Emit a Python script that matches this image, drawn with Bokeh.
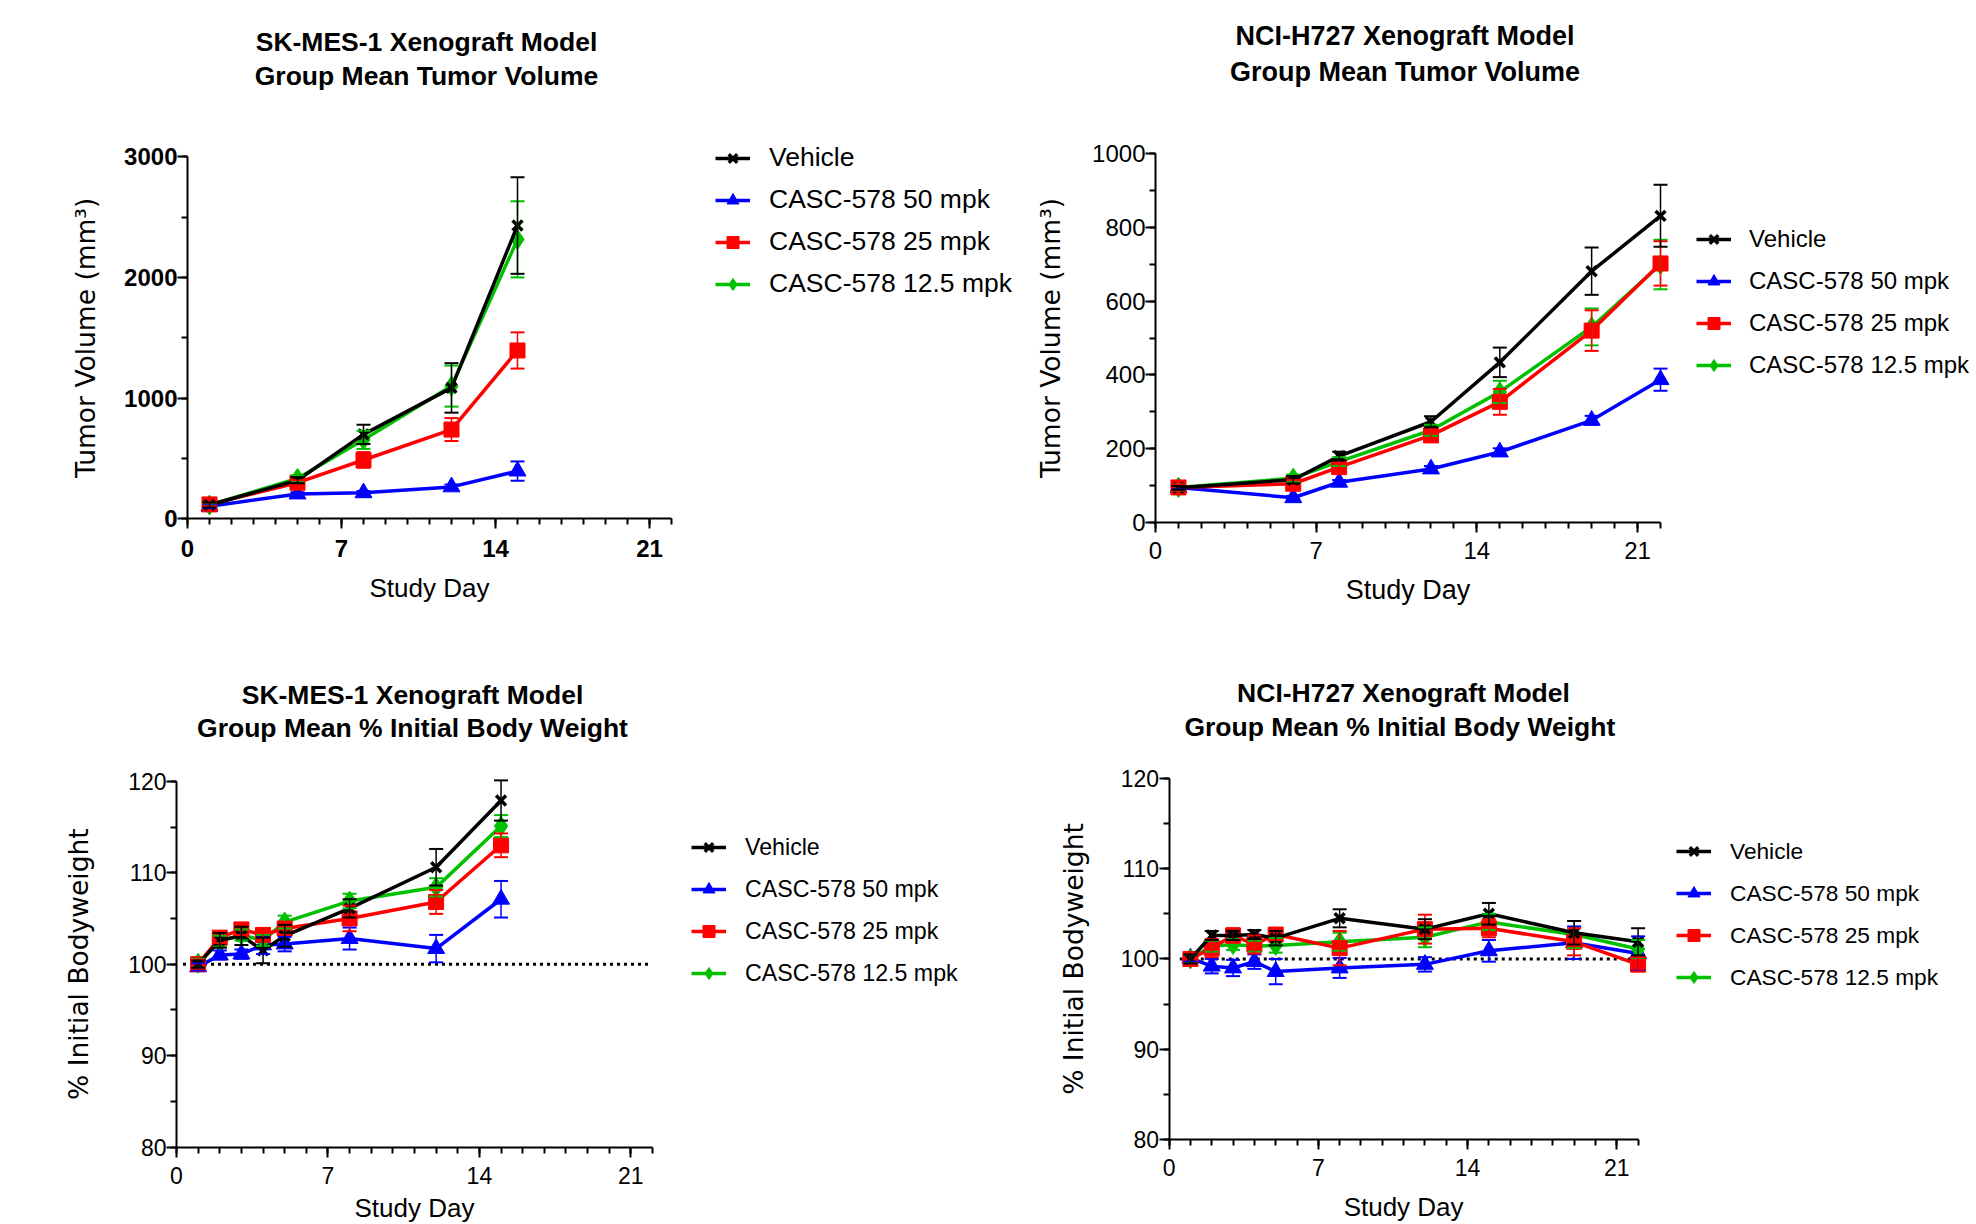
import math
from bokeh.plotting import figure
from bokeh.models import (Range1d, FixedTicker, Whisker, TeeHead, ColumnDataSource,
                          Legend, LegendItem, Label, LinearAxis)
from bokeh.layouts import column, row
from bokeh.embed import file_html
from bokeh.resources import INLINE

# ---------------- data ----------------
group_labels = ["Vehicle", "CASC-578 50 mpk", "CASC-578 25 mpk", "CASC-578 12.5 mpk"]
x_ticks = [0, 7, 14, 21]
x_max_day = 22

# SK-MES-1 tumor volume
sk_tv_days = [1, 5, 8, 12, 15]
sk_tv_vehicle = [115, 320, 700, 1085, 2430]
sk_tv_vehicle_err = [20, 25, 80, 205, 400]
sk_tv_50 = [105, 206, 216, 265, 396]
sk_tv_50_err = [15, 15, 15, 20, 80]
sk_tv_25 = [120, 300, 488, 740, 1395]
sk_tv_25_err = [15, 20, 65, 95, 150]
sk_tv_125 = [115, 335, 655, 1100, 2315]
sk_tv_125_err = [15, 25, 75, 170, 315]

# NCI-H727 tumor volume
nci_tv_days = [1, 6, 8, 12, 15, 19, 22]
nci_tv_vehicle = [94, 116, 180, 273, 434, 681, 831]
nci_tv_vehicle_err = [5, 10, 12, 15, 40, 64, 84]
nci_tv_50 = [95, 67, 109, 145, 191, 277, 387]
nci_tv_50_err = [5, 5, 6, 8, 10, 12, 30]
nci_tv_25 = [95, 105, 150, 236, 327, 520, 702]
nci_tv_25_err = [8, 10, 12, 15, 35, 55, 60]
nci_tv_125 = [95, 120, 165, 250, 354, 530, 699]
nci_tv_125_err = [8, 10, 12, 15, 30, 50, 67]

# SK-MES-1 body weight
sk_bw_days = [1, 2, 3, 4, 5, 8, 12, 15]
sk_bw_vehicle = [100, 102.6, 103.1, 101.5, 103.1, 106.1, 110.6, 117.9]
sk_bw_vehicle_err = [0.4, 0.8, 1.0, 1.4, 1.2, 1.0, 2.0, 2.2]
sk_bw_50 = [99.7, 101.0, 101.1, 102.1, 102.2, 102.8, 101.7, 107.1]
sk_bw_50_err = [0.4, 0.5, 0.5, 1.0, 0.8, 1.2, 1.5, 2.0]
sk_bw_25 = [100.0, 102.9, 103.8, 103.2, 103.9, 105.0, 106.8, 113.0]
sk_bw_25_err = [0.5, 0.6, 0.6, 0.5, 0.7, 1.4, 1.3, 1.3]
sk_bw_125 = [100.1, 102.5, 103.2, 102.6, 104.6, 106.9, 108.4, 115.1]
sk_bw_125_err = [0.5, 0.6, 0.6, 0.6, 0.7, 0.8, 1.0, 1.2]

# NCI-H727 body weight
nci_bw_days = [1, 2, 3, 4, 5, 8, 12, 15, 19, 22]
nci_bw_vehicle = [100, 102.6, 102.6, 102.7, 102.3, 104.5, 103.3, 105.0, 102.9, 101.9]
nci_bw_vehicle_err = [0.5, 0.5, 0.5, 0.5, 0.8, 1.0, 1.1, 1.2, 1.3, 1.5]
nci_bw_50 = [100.1, 99.2, 99.0, 99.7, 98.6, 99.0, 99.4, 100.9, 101.8, 100.6]
nci_bw_50_err = [0.4, 0.8, 0.9, 0.8, 1.4, 1.1, 0.8, 1.2, 1.8, 1.9]
nci_bw_25 = [100.0, 101.2, 102.6, 101.6, 102.7, 101.2, 103.3, 103.4, 101.9, 99.4]
nci_bw_25_err = [0.6, 1.0, 0.8, 1.0, 0.6, 1.9, 1.6, 1.0, 1.5, 0.8]
nci_bw_125 = [100.0, 101.4, 101.6, 101.4, 101.5, 101.9, 102.4, 104.1, 102.7, 101.1]
nci_bw_125_err = [0.5, 0.6, 0.6, 0.6, 0.8, 1.0, 1.1, 0.9, 1.5, 1.0]

baseline_pct = 100
sk_baseline_days = [0.3, 21.8]
nci_baseline_days = [0.5, 22.0]

# ---------------- styling ----------------
COLORS = ["#000000", "#0000FF", "#FF0000", "#00C000"]
MARKERS = ["x", "triangle", "square", "diamond"]
MSIZE = [14, 17, 15, 20]
DRAW_ORDER = [1, 3, 2, 0]
FONT = "Liberation Sans"


def make_panel(title_lines, ylabel, days, series, errs, y_lim, y_ticks, y_minor,
               W, H, ax_x, ax_y, xppu, yppu, title_x, title_ys, leg_xy,
               ylabel_x, xlabel_y,
               bold_ticks=False, baseline=None, tick_fs="24px",
               title_fs="26.5px", legend_fs="26px", label_fs="26px",
               xtick_standoff=11, legend_spacing=12, legend_standoff=19):
    # The frame covers the whole canvas; axes are pinned inside it with
    # fixed_location so titles, axis labels and legend are all free to place.
    y0 = y_lim[0]
    p = figure(width=W, height=H, title=None,
               min_border_left=0, min_border_right=0,
               min_border_top=0, min_border_bottom=0,
               x_axis_location=None, y_axis_location=None,
               x_range=Range1d(-ax_x / xppu, (W - ax_x) / xppu),
               y_range=Range1d(y0 - (H - ax_y) / yppu, y0 + ax_y / yppu),
               output_backend="svg", toolbar_location=None, tools="")
    p.outline_line_color = None
    p.background_fill_color = "white"
    p.grid.visible = False
    p.grid.grid_line_color = None

    def dx(px):
        return (px - ax_x) / xppu

    def dy(py):
        return y0 + (ax_y - py) / yppu

    for line, ty in zip(title_lines, title_ys):
        p.add_layout(Label(x=dx(title_x), y=dy(ty), text=line, text_align="center",
                           text_baseline="middle", text_font=FONT,
                           text_font_size=title_fs, text_font_style="bold",
                           text_color="black"))

    xaxis = LinearAxis(fixed_location=y0, bounds=(0, x_max_day),
                       ticker=FixedTicker(ticks=x_ticks,
                                          minor_ticks=list(range(0, x_max_day + 1))))
    yaxis = LinearAxis(fixed_location=0, bounds=tuple(y_lim),
                       ticker=FixedTicker(ticks=y_ticks, minor_ticks=y_minor))
    for ax in (xaxis, yaxis):
        ax.axis_line_width = 2
        ax.axis_line_color = "black"
        ax.major_tick_out = 10
        ax.major_tick_in = 0
        ax.minor_tick_out = 6
        ax.minor_tick_in = 0
        ax.major_tick_line_width = 2
        ax.minor_tick_line_width = 2
        ax.major_tick_line_color = "black"
        ax.minor_tick_line_color = "black"
        ax.major_label_text_font = FONT
        ax.major_label_text_font_size = tick_fs
        ax.major_label_text_color = "black"
        ax.major_label_text_font_style = "bold" if bold_ticks else "normal"
    xaxis.major_label_standoff = xtick_standoff
    yaxis.major_label_standoff = 0
    p.add_layout(xaxis, "below")
    p.add_layout(yaxis, "left")

    # axis titles, centred on the bounded axis spans
    y_mid = (y_lim[0] + y_lim[1]) / 2
    p.add_layout(Label(x=dx(ylabel_x), y=y_mid, text=ylabel, angle=math.pi / 2,
                       text_align="center", text_baseline="middle",
                       text_font="DejaVu Sans", text_font_size="26.5px",
                       text_color="black"))
    p.add_layout(Label(x=x_max_day / 2, y=dy(xlabel_y), text="Study Day",
                       text_align="center", text_baseline="middle",
                       text_font=FONT, text_font_size=label_fs, text_color="black"))

    if baseline is not None:
        p.line(baseline, [baseline_pct, baseline_pct], line_color="black",
               line_width=3, line_dash="3 4")

    items = [None] * 4
    for i in DRAW_ORDER:
        c = COLORS[i]
        vals = series[i]
        e = errs[i]
        src = ColumnDataSource(dict(x=days, y=vals,
                                    upper=[v + d for v, d in zip(vals, e)],
                                    lower=[v - d for v, d in zip(vals, e)]))
        w = Whisker(source=src, base="x", upper="upper", lower="lower",
                    line_color=c, line_width=1.5, level="glyph",
                    upper_head=TeeHead(size=14, line_color=c, line_width=2),
                    lower_head=TeeHead(size=14, line_color=c, line_width=2))
        p.add_layout(w)
        lr = p.line("x", "y", source=src, line_color=c, line_width=3.5)
        if MARKERS[i] == "x":
            sr = p.scatter("x", "y", source=src, marker="x", size=MSIZE[i],
                           line_color=c, line_width=3.5)
        else:
            sr = p.scatter("x", "y", source=src, marker=MARKERS[i], size=MSIZE[i],
                           fill_color=c, line_color=c)
        items[i] = LegendItem(label=group_labels[i], renderers=[lr, sr])

    legend = Legend(items=items, location=leg_xy)
    legend.border_line_color = None
    legend.background_fill_alpha = 0
    legend.padding = 0
    legend.margin = 0
    legend.spacing = legend_spacing
    legend.label_height = 30
    legend.glyph_height = 30
    legend.glyph_width = 35
    legend.label_standoff = legend_standoff
    legend.label_text_font = FONT
    legend.label_text_font_size = legend_fs
    legend.label_text_color = "black"
    p.add_layout(legend)
    return p


p1 = make_panel(["SK-MES-1 Xenograft Model", "Group Mean Tumor Volume"],
                "Tumor Volume (mm³)", sk_tv_days,
                [sk_tv_vehicle, sk_tv_50, sk_tv_25, sk_tv_125],
                [sk_tv_vehicle_err, sk_tv_50_err, sk_tv_25_err, sk_tv_125_err],
                (0, 3000), [0, 1000, 2000, 3000], list(range(0, 3001, 500)),
                W=1025, H=648, ax_x=187, ax_y=518.4, xppu=484.0 / 22, yppu=362.2 / 3000,
                title_x=426, title_ys=(41.5, 75), leg_xy=(715, 349),
                ylabel_x=84.5, xlabel_y=587,
                bold_ticks=True, legend_fs="26.5px", legend_spacing=11,
                xtick_standoff=11)

p2 = make_panel(["NCI-H727 Xenograft Model", "Group Mean Tumor Volume"],
                "Tumor Volume (mm³)", nci_tv_days,
                [nci_tv_vehicle, nci_tv_50, nci_tv_25, nci_tv_125],
                [nci_tv_vehicle_err, nci_tv_50_err, nci_tv_25_err, nci_tv_125_err],
                (0, 1000), list(range(0, 1001, 200)), list(range(0, 1001, 100)),
                W=951, H=648, ax_x=130, ax_y=522, xppu=505.0 / 22, yppu=369.0 / 1000,
                title_x=379.5, title_ys=(35.6, 71), leg_xy=(671, 268),
                ylabel_x=25, xlabel_y=589,
                title_fs="27px", legend_fs="24px", label_fs="27px",
                xtick_standoff=9, legend_standoff=18)

p3 = make_panel(["SK-MES-1 Xenograft Model", "Group Mean % Initial Body Weight"],
                "% Initial Bodyweight", sk_bw_days,
                [sk_bw_vehicle, sk_bw_50, sk_bw_25, sk_bw_125],
                [sk_bw_vehicle_err, sk_bw_50_err, sk_bw_25_err, sk_bw_125_err],
                (80, 120), [80, 90, 100, 110, 120], list(range(80, 121, 5)),
                W=1000, H=576, ax_x=176, ax_y=498.5, xppu=476.0 / 22, yppu=365.7 / 40,
                title_x=412, title_ys=(46, 79.5), leg_xy=(691, 236),
                ylabel_x=77.8, xlabel_y=559,
                baseline=sk_baseline_days, tick_fs="23px", legend_fs="23.2px",
                label_fs="26px", xtick_standoff=10)

p4 = make_panel(["NCI-H727 Xenograft Model", "Group  Mean % Initial Body Weight"],
                "% Initial Bodyweight", nci_bw_days,
                [nci_bw_vehicle, nci_bw_50, nci_bw_25, nci_bw_125],
                [nci_bw_vehicle_err, nci_bw_50_err, nci_bw_25_err, nci_bw_125_err],
                (80, 120), [80, 90, 100, 110, 120], list(range(80, 121, 5)),
                W=976, H=576, ax_x=168.6, ax_y=491.1, xppu=469.0 / 22, yppu=361.3 / 40,
                title_x=403, title_ys=(44, 78.4), leg_xy=(676, 232),
                ylabel_x=73, xlabel_y=558,
                baseline=nci_baseline_days, tick_fs="23px", legend_fs="22.7px",
                label_fs="26px", xtick_standoff=9)

layout = column(row(p1, p2), row(p3, p4))
open("out.html", "w").write(file_html(layout, INLINE))
